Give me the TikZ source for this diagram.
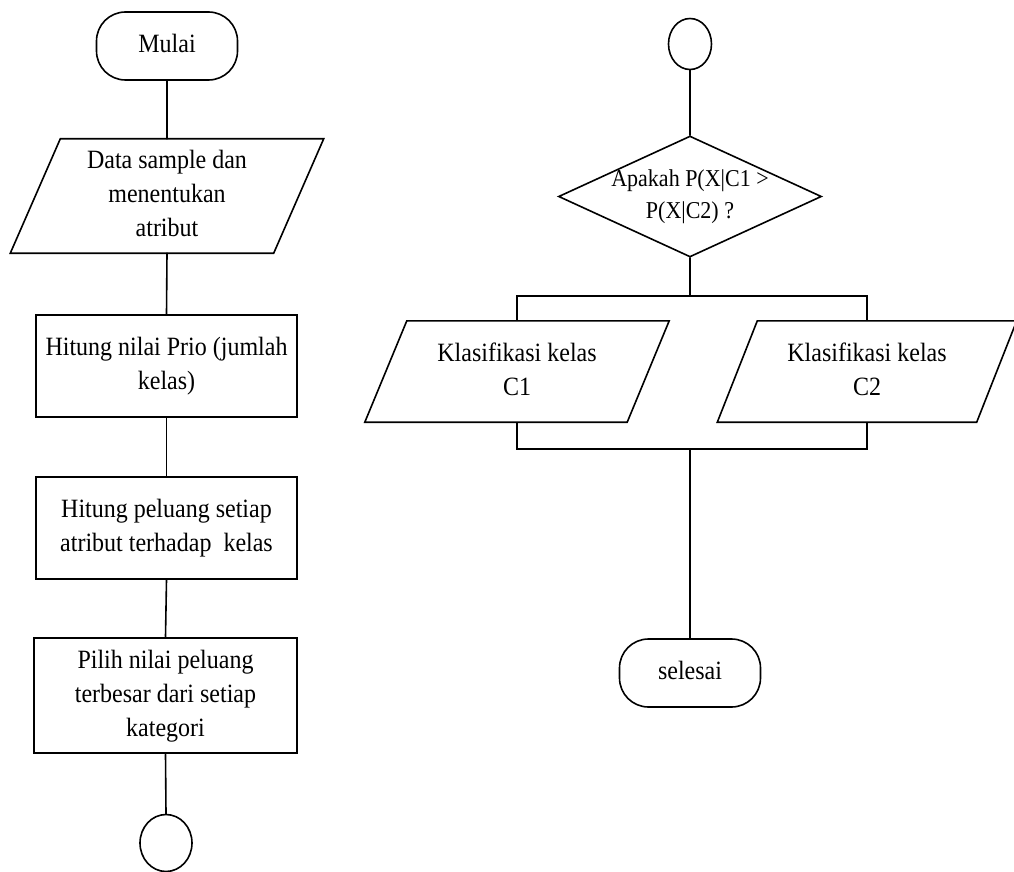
\documentclass[tikz,border=0pt]{standalone}
\usepackage{fontspec}
\setmainfont{Liberation Serif}
\usetikzlibrary{shapes.geometric,calc}
\newcommand{\vt}[1]{\scalebox{1}[1.1]{\begin{tabular}{@{}c@{}}#1\end{tabular}}}
\tikzset{
  base/.style={line width=1.6pt},
  txt/.style={font=\fontsize{24}{31}\selectfont, align=center, inner sep=0pt},
  term/.style={base, draw, rounded corners=29pt, minimum width=141pt, minimum height=68pt, txt},
  procbox/.style={base, draw, minimum width=261pt, minimum height=102pt, txt},
  iobody/.style={draw=none, txt},
  conn/.style={base, draw, ellipse, inner sep=0pt},
  decis/.style={base, draw, diamond, inner sep=0pt, minimum width=263pt, minimum height=121pt},
  line/.style={base, line cap=round}
}
\newcommand{\iopath}[2]{%
  \draw[base, line join=miter] ($(#1.north west)+(#2,0)$) -- ($(#1.north east)+(#2,0)$)
     -- ($(#1.south east)+(-#2,0)$) -- ($(#1.south west)+(-#2,0)$) -- cycle;}
\begin{document}
\begin{tikzpicture}[x=1pt,y=-1pt]
\useasboundingbox (0,0) rectangle (1014,872);
% left column
\node[term] (mulai) at (167,46) {\vt{Mulai}};
\node[iobody, minimum width=263pt, minimum height=114pt] (p1) at (167,196)
  {\vt{Data sample dan\\menentukan\\atribut}};
\iopath{p1}{25}
\node[procbox] (r2) at (166.5,366) {\vt{Hitung nilai Prio (jumlah\\kelas)}};
\node[procbox] (r3) at (166.5,528) {\vt{Hitung peluang setiap\\atribut terhadap\ \ kelas}};
\node[procbox, line width=2.6pt, minimum width=263pt, minimum height=115pt] (r4) at (165.5,695.5)
  {\vt{Pilih nilai peluang\\terbesar dari setiap\\kategori}};
\node[conn, minimum width=52pt, minimum height=57pt] (endc) at (166,843) {};
\draw[line] (mulai.south) -- (p1.north);
\draw[line] (p1.south) -- (r2.north);
\draw[line] (r2.south) -- (r3.north);
\draw[line] (r3.south) -- (r4.north);
\draw[line] (r4.south) -- (endc.north);
% right column
\node[conn, minimum width=43pt, minimum height=51pt] (topc) at (690,44) {};
\node[decis] (dec) at (690,196.5) {};
\node[txt, font=\fontsize{22}{29}\selectfont] (dect) at (690,196) {\vt{Apakah P(X|C1 >\\P(X|C2) ?}};
\node[iobody, minimum width=262pt, minimum height=101pt] (c1) at (517,371.5) {\vt{Klasifikasi kelas\\C1}};
\iopath{c1}{21}
\node[iobody, minimum width=259pt, minimum height=101pt] (c2) at (867,371.5) {\vt{Klasifikasi kelas\\C2}};
\iopath{c2}{20}
\node[term] (sel) at (690,673) {\vt{selesai}};
\coordinate (br) at (690,296);
\coordinate (jn) at (690,449);
\draw[line] (topc.south) -- (dec.north);
\draw[line] (dec.south) -- (br);
\draw[base] (c1.north) |- (br) -| (c2.north);
\draw[base] (c1.south) |- (jn) -| (c2.south);
\draw[line] (jn) -- (sel.north);
\end{tikzpicture}
\end{document}
